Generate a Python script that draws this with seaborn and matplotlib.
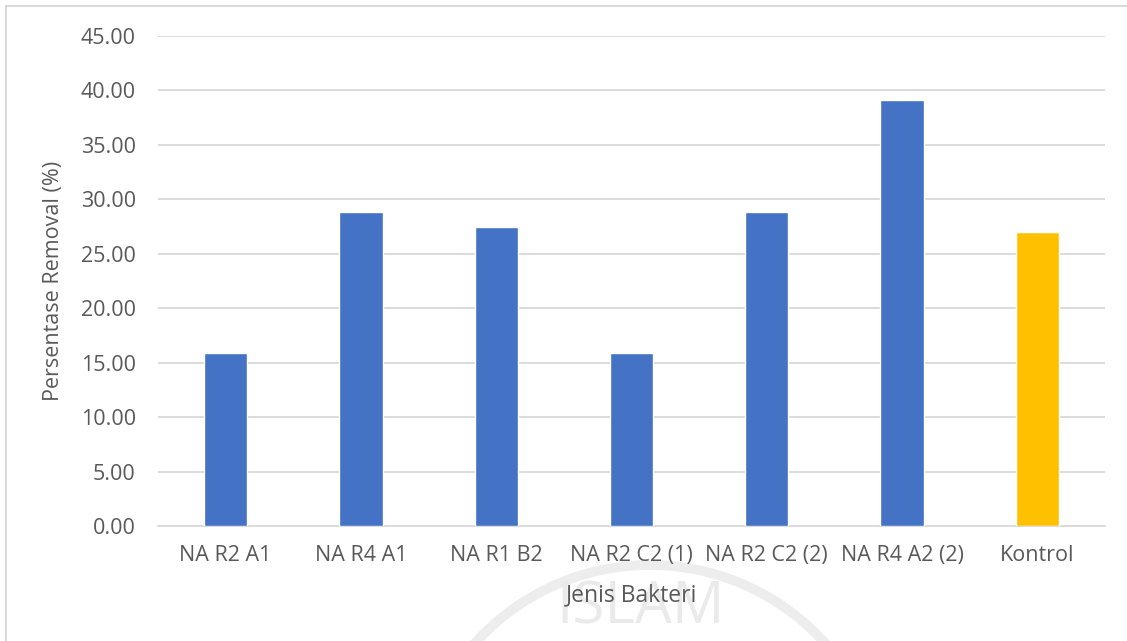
import matplotlib
matplotlib.use("Agg")
import matplotlib.pyplot as plt
from matplotlib.patches import Rectangle, Arc
import seaborn as sns
import pandas as pd

# Removal percentage per bacterial isolate (with control)
categories = ["NA R2 A1", "NA R4 A1", "NA R1 B2", "NA R2 C2 (1)",
              "NA R2 C2 (2)", "NA R4 A2 (2)", "Kontrol"]
removal = [15.9, 28.8, 27.5, 15.9, 28.8, 39.1, 27.0]
bar_colors = ["#4472C4"] * 6 + ["#FFC000"]
y_ticks = [0, 5, 10, 15, 20, 25, 30, 35, 40, 45]

df = pd.DataFrame({"Jenis Bakteri": categories, "Removal": removal})

sns.set_theme(style="white")
plt.rcParams["font.family"] = ["Open Sans", "DejaVu Sans"]

W, H = 1127, 641
fig = plt.figure(figsize=(W / 100, H / 100), dpi=100)
fig.patch.set_facecolor("white")

# Faint page watermark (drawn first, behind the chart)
wm_ax = fig.add_axes([0, 0, 1, 1], zorder=0)
wm_ax.set_xlim(0, W)
wm_ax.set_ylim(H, 0)
wm_ax.axis("off")
wm_ax.add_patch(Arc((650, 800), 470, 470, theta1=195, theta2=345,
                    color="#EDEDED", linewidth=7))
wm_ax.text(640, 608, "ISLAM", fontsize=42, color="#EAEAEA",
           ha="center", va="center")

ax = fig.add_axes([158 / W, 1 - 526 / H, (1105 - 158) / W, (526 - 36) / H], zorder=1)
ax.patch.set_alpha(0)

sns.barplot(data=df, x="Jenis Bakteri", y="Removal", hue="Jenis Bakteri",
            palette=bar_colors, width=0.32, legend=False, ax=ax,
            saturation=1, zorder=3)

ax.set_ylim(0, 45)
ax.set_yticks(y_ticks)
ax.set_yticklabels([f"{v:.2f}" for v in y_ticks])
ax.set_xlim(-0.5, len(categories) - 0.5)
ax.grid(axis="y", color="#D9D9D9", linewidth=1.3, zorder=0)
ax.set_axisbelow(True)
for side in ["top", "right", "left"]:
    ax.spines[side].set_visible(False)
ax.spines["bottom"].set_color("#D9D9D9")
ax.spines["bottom"].set_linewidth(1.3)

ax.tick_params(axis="y", length=0, labelsize=15.5, colors="#595959", pad=16)
ax.tick_params(axis="x", length=0, labelsize=15.5, colors="#595959", pad=14)
ax.set_xlabel("Jenis Bakteri", fontsize=16.5, color="#595959", labelpad=12)
ax.set_ylabel("Persentase Removal (%)", fontsize=15.5, color="#595959", labelpad=12)

# Chart area frame
fig.patches.append(Rectangle((6 / W, -0.05), 1.2, 1 - 6 / H + 0.05,
                             transform=fig.transFigure, fill=False,
                             edgecolor="#D9D9D9", linewidth=1.5, zorder=0))

fig.savefig("out.png", dpi=100, facecolor="white")
